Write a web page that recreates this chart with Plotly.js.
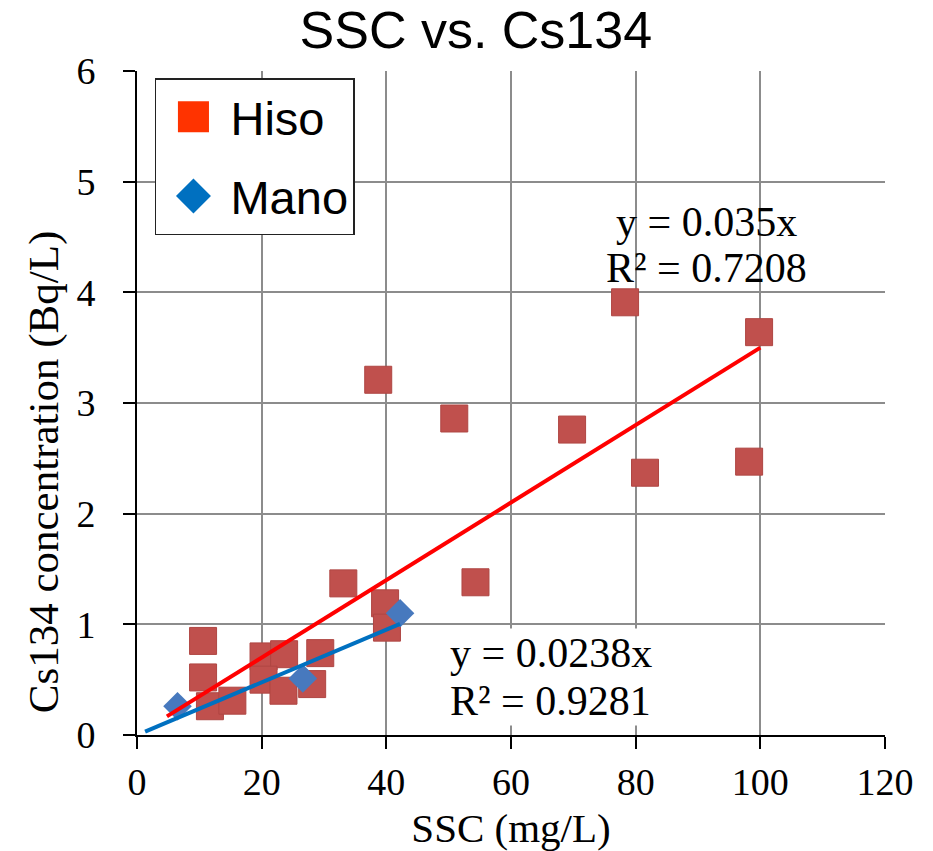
<!DOCTYPE html>
<html>
<head>
<meta charset="utf-8">
<script src="https://cdn.plot.ly/plotly-3.0.1.min.js"></script>
<style>html,body{margin:0;padding:0;background:#fff;}#chart{width:933px;height:851px;}</style>
</head>
<body>
<div id="chart"></div>
<script>
// ---- data ----
var hisoSSC = [38.7, 50.9, 78.3, 99.8, 69.8, 81.5, 98.2, 54.3, 33.1, 39.8, 40.1, 10.6, 10.6, 11.7, 15.3, 20.3, 23.6, 20.3, 23.5, 29.4, 28.1];
var hisoCs  = [3.21, 2.86, 3.91, 3.64, 2.76, 2.37, 2.47, 1.38, 1.37, 1.19, 0.97, 0.85, 0.52, 0.26, 0.31, 0.71, 0.73, 0.50, 0.40, 0.74, 0.46];
var manoSSC = [6.5, 26.6, 42.2];
var manoCs  = [0.26, 0.51, 1.10];
var hisoFitX = [4.8, 100];
var hisoFitY = [0.168, 3.50];
var manoFitX = [1.3, 42.2];
var manoFitY = [0.031, 1.004];
var seriesNames = ["Hiso", "Mano"];
var hisoEq = ["y = 0.035x", "R² = 0.7208"];
var manoEq = ["y = 0.0238x", "R² = 0.9281"];
var xTicks = [0, 20, 40, 60, 80, 100, 120];
var yTicks = [0, 1, 2, 3, 4, 5, 6];
var yTitle = "Cs134 concentration (Bq/L)";

var serif = "Times New Roman, Liberation Serif, serif";
var sans = "Arial, Liberation Sans, sans-serif";

var traces = [
  {x: hisoSSC, y: hisoCs, type: "scatter", mode: "markers", showlegend: false, name: seriesNames[0],
   marker: {symbol: "square", size: 27, color: "rgb(192,80,77)", line: {width: 1, color: "rgb(175,70,67)"}}},
  {x: manoSSC, y: manoCs, type: "scatter", mode: "markers", showlegend: false, name: seriesNames[1],
   marker: {symbol: "diamond", size: 22, color: "#4779BE", line: {width: 0}}},
  {x: hisoFitX, y: hisoFitY, type: "scatter", mode: "lines", showlegend: false, hoverinfo: "skip",
   line: {color: "#FF0000", width: 4}},
  {x: manoFitX, y: manoFitY, type: "scatter", mode: "lines", showlegend: false, hoverinfo: "skip",
   line: {color: "#0070C0", width: 4}},
  // legend entries
  {x: [null], y: [null], type: "scatter", mode: "markers", name: seriesNames[0], legendgroup: "a",
   marker: {symbol: "square", size: 16, color: "#FF3300"}},
  {x: [null], y: [null], type: "scatter", mode: "markers", name: seriesNames[1], legendgroup: "b",
   marker: {symbol: "diamond", size: 16, color: "#0070C0"}}
];

var axisCommon = {
  showgrid: true, gridcolor: "#8c8c8c", gridwidth: 2,
  showline: true, linecolor: "#000", linewidth: 2,
  ticks: "outside", ticklen: 12, tickwidth: 2, tickcolor: "#000",
  zeroline: false, tickfont: {family: serif, size: 38, color: "#000"}
};

var layout = {
  width: 933, height: 851,
  margin: {l: 137, r: 48, t: 71, b: 116},
  paper_bgcolor: "#fff", plot_bgcolor: "#fff",
  title: {text: "SSC vs. Cs134", font: {family: sans, size: 52, color: "#000"},
          x: 0.51, xref: "container", xanchor: "center", y: 0.965, yref: "container", yanchor: "middle"},
  xaxis: Object.assign({}, axisCommon, {
    range: [0, 120], tickvals: xTicks, ticklabelstandoff: 0,
    title: {text: "SSC (mg/L)", font: {family: serif, size: 41, color: "#000"}, standoff: 14}
  }),
  yaxis: Object.assign({}, axisCommon, {
    range: [0, 6], tickvals: yTicks, ticklabelstandoff: 20
  }),
  legend: {x: 0.024, y: 0.989, xanchor: "left", yanchor: "top", bgcolor: "#fff",
           bordercolor: "#222", borderwidth: 1.5, font: {family: sans, size: 47, color: "#000"},
           itemwidth: 64, tracegroupgap: 15},
  annotations: [
    {x: -0.125, y: 0.395, xref: "paper", yref: "paper", text: yTitle, textangle: -90, showarrow: false,
     xanchor: "center", yanchor: "middle", font: {family: serif, size: 43, color: "#000"}},
    {x: 91.3, y: 4.64, xref: "x", yref: "y", text: hisoEq[0], showarrow: false, font: {family: serif, size: 42, color: "#000"}},
    {x: 91.3, y: 4.22, xref: "x", yref: "y", text: hisoEq[1], showarrow: false, font: {family: serif, size: 42, color: "#000"}},
    {x: 66.4, y: 0.74, xref: "x", yref: "y", text: manoEq[0], showarrow: false, bgcolor: "#fff", font: {family: serif, size: 42, color: "#000"}},
    {x: 66.4, y: 0.31, xref: "x", yref: "y", text: manoEq[1], showarrow: false, bgcolor: "#fff", font: {family: serif, size: 42, color: "#000"}}
  ]
};

Plotly.newPlot("chart", traces, layout, {displayModeBar: false, staticPlot: true}).then(function () {
  var scales = [1.94, 1.68];
  var groups = document.querySelectorAll(".legend .traces");
  groups.forEach(function (g, i) {
    g.querySelectorAll("path.scatterpts").forEach(function (p) {
      var t = p.getAttribute("transform") || "";
      p.setAttribute("transform", t + " scale(" + scales[i] + ")");
    });
  });
});
</script>
</body>
</html>
